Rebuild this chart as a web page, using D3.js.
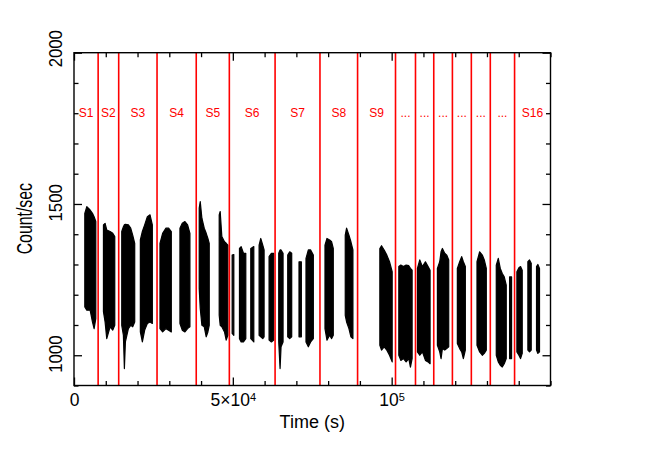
<!DOCTYPE html>
<html>
<head>
<meta charset="utf-8">
<script src="https://cdn.jsdelivr.net/npm/d3@7"></script>
<style>
  body { margin: 0; background: #fff; }
  text { font-family: "Liberation Sans", Arial, Helvetica, sans-serif; }
</style>
</head>
<body>
<div id="chart"></div>
<script>
// red separators between the observation segments (s)
var boundaries = [7600, 14070, 26140, 38480, 48900, 63300, 77430, 89270,
                  101210, 107500, 113250, 119120, 125080, 131050, 138690];
var segLabels = ["S1", "S2", "S3", "S4", "S5", "S6", "S7", "S8", "S9",
                 "...", "...", "...", "...", "...", "...", "S16"];

var xMajor = [0, 50000, 100000];
var xTickLabels = [["0", ""], ["5\u00d710", "4"], ["10", "5"]];
var yMajor = [1000, 1500, 2000];

// light curve, one band per orbit: [time, lower envelope, upper envelope]
var orbits = [
  [[3400,1160,1469],[4030,1149,1491],[5080,1149,1480],[5810,1110,1469],[6330,1088,1458],[6860,1121,1442]],
  [[9270,1144,1431],[9790,1110,1436],[10310,1055,1414],[11360,1094,1409],[12200,1083,1403],[12830,1099,1392]],
  [[15030,1099,1409],[15550,1066,1425],[15860,956,1431],[16180,1044,1433],[17120,1088,1431],[17850,1099,1420],[18480,1094,1397],[19110,1110,1370]],
  [[20890,1077,1381],[21520,1044,1409],[22250,1083,1431],[23090,1105,1458],[23930,1110,1464],[24660,1105,1431]],
  [[27070,1088,1370],[27900,1077,1403],[28950,1088,1420],[29790,1083,1420],[30630,1077,1409]],
  [[33350,1105,1420],[34080,1083,1436],[34920,1077,1442],[35760,1088,1431],[36490,1094,1403]],
  [[39420,1221,1486],[39740,1155,1508],[40260,1099,1453],[41000,1094,1420],[41620,1061,1403],[42150,1077,1386],[42570,1099,1370]],
  [[45710,1132,1464],[46020,1099,1475],[46540,1094,1392],[47380,1077,1375],[47910,1050,1370],[48430,1066,1364]],
  [[49790,1072,1331],[50310,1066,1333]],
  [[52090,1055,1353],[52620,1044,1359],[53350,1044,1337],[54080,1055,1337]],
  [[55650,1055,1353],[56600,1044,1359]],
  [[58270,1066,1364],[58790,1061,1386],[59420,1055,1364],[59840,1061,1348]],
  [[61410,1050,1326],[62140,1044,1337],[62880,1050,1337]],
  [[64450,1044,1337],[64870,956,1348],[65180,1028,1348],[65810,1044,1337]],
  [[67280,1061,1331],[67900,1055,1342],[68530,1061,1337]],
  [[70830,1061,1309],[71570,1061,1309]],
  [[73030,1044,1320],[73770,1028,1348],[74500,1044,1348],[75340,1055,1331]],
  [[79010,1088,1364],[79630,1050,1386],[80470,1066,1381],[81100,1055,1375],[81620,1066,1353]],
  [[85390,1132,1397],[85810,1110,1420],[86550,1088,1397],[87170,1061,1375],[87800,1055,1348]],
  [[96280,1033,1353],[96810,1017,1362],[97640,1028,1348],[98480,1017,1331],[99320,1000,1309],[100160,978,1276]],
  [[102250,1000,1293],[102880,983,1298],[103720,989,1293],[104550,978,1298],[105390,989,1296],[105910,961,1287],[106440,989,1281]],
  [[108110,1011,1287],[108850,1000,1315],[109680,1011,1293],[110630,983,1309],[111460,978,1293],[112090,972,1281]],
  [[114400,1033,1287],[115130,1011,1309],[115550,989,1342],[115970,1022,1353],[116700,1017,1337],[117330,1022,1331],[117960,1028,1315]],
  [[120680,1039,1287],[121410,1022,1309],[122040,1011,1326],[122570,989,1309],[123190,1017,1293]],
  [[126860,1033,1309],[127700,1011,1342],[128530,1000,1331],[129160,1006,1315],[129790,1017,1287]],
  [[132930,1000,1298],[133560,978,1320],[134190,967,1287],[134820,961,1270],[135440,972,1259],[136070,989,1232]],
  [[137120,989,1259],[137750,989,1259]],
  [[139420,1011,1276],[140050,1000,1289],[140570,989,1293],[141100,1006,1281]],
  [[142880,1017,1309],[143400,1011,1315],[143930,1017,1304]],
  [[145600,1017,1293],[146020,1006,1300],[146540,1011,1287]]
];

var width = 664,
    height = 470;
var pLeft = 74, pRight = 550.5, pTop = 52.7, pBottom = 385.5;

var x = d3.scaleLinear().domain([0, 150000]).range([pLeft, pRight]);
var y = d3.scaleLinear().domain([900, 2000]).range([pBottom, pTop]);

var xMinor = d3.range(0, 150001, 10000).filter(function(d) { return xMajor.indexOf(d) < 0; });
var yMinor = d3.range(900, 2001, 100).filter(function(d) { return yMajor.indexOf(d) < 0; });

var svg = d3.select("#chart").append("svg")
    .attr("width", width)
    .attr("height", height);

// light curve bands
var area = d3.area()
    .x(function(d) { return x(d[0]); })
    .y0(function(d) { return y(d[1]); })
    .y1(function(d) { return y(d[2]); });

svg.append("g").selectAll("path")
    .data(orbits)
    .enter().append("path")
    .attr("d", area)
    .attr("fill", "#000")
    .attr("stroke", "#000")
    .attr("stroke-width", 1.2)
    .attr("stroke-linejoin", "round");

// segment separators
svg.append("g").selectAll("line")
    .data(boundaries)
    .enter().append("line")
    .attr("x1", function(d) { return x(d); })
    .attr("x2", function(d) { return x(d); })
    .attr("y1", pTop)
    .attr("y2", pBottom)
    .attr("stroke", "#ff0000")
    .attr("stroke-width", 1.6);

var edges = [0].concat(boundaries, [150000]);
svg.append("g").selectAll("text")
    .data(segLabels)
    .enter().append("text")
    .attr("x", function(d, i) { return x((edges[i] + edges[i + 1]) / 2); })
    .attr("y", 117.3)
    .attr("text-anchor", "middle")
    .attr("font-size", "12px")
    .attr("fill", "#ff0000")
    .text(function(d) { return d; });

// ticks, all pointing inward
function ticks(axis, values, size) {
  return axis.tickValues(values).tickSizeInner(-size).tickSizeOuter(0).tickFormat("");
}
function clean(g) {
  g.select(".domain").remove();
  g.selectAll(".tick line").attr("stroke", "#000").attr("stroke-width", 1.3);
}

svg.append("g").attr("transform", "translate(0," + pBottom + ")")
    .call(ticks(d3.axisBottom(x), xMinor, 4.5)).call(clean);
svg.append("g").attr("transform", "translate(0," + pTop + ")")
    .call(ticks(d3.axisTop(x), xMinor, 4.5)).call(clean);
svg.append("g").attr("transform", "translate(0," + pTop + ")")
    .call(ticks(d3.axisTop(x), xMajor, 8)).call(clean);
svg.append("g").attr("transform", "translate(" + pLeft + ",0)")
    .call(ticks(d3.axisLeft(y), yMinor, 4.5)).call(clean);
svg.append("g").attr("transform", "translate(" + pRight + ",0)")
    .call(ticks(d3.axisRight(y), yMinor, 4.5)).call(clean);
svg.append("g").attr("transform", "translate(" + pRight + ",0)")
    .call(ticks(d3.axisRight(y), yMajor, 8)).call(clean);

// bottom major ticks with powers of ten
var gx = svg.append("g").attr("transform", "translate(0," + pBottom + ")")
    .call(ticks(d3.axisBottom(x), xMajor, 8).tickPadding(8)).call(clean);
gx.selectAll(".tick text")
    .attr("fill", "#000")
    .attr("font-size", "17.5px")
    .attr("font-family", null)
    .each(function(d, i) {
      var t = d3.select(this), parts = xTickLabels[i];
      t.append("tspan").text(parts[0]);
      if (parts[1]) t.append("tspan").attr("dy", "-0.42em").attr("font-size", "11px").text(parts[1]);
    });

// left major ticks, labels rotated
var gy = svg.append("g").attr("transform", "translate(" + pLeft + ",0)")
    .call(ticks(d3.axisLeft(y), yMajor, 8).tickFormat(d3.format("d"))).call(clean);
gy.selectAll(".tick text")
    .attr("fill", "#000")
    .attr("font-size", "18px")
    .attr("font-family", null)
    .attr("text-anchor", "middle")
    .attr("transform", "rotate(-90) scale(0.93,1)")
    .attr("x", function(d) { return (d === 2000 ? 4.5 : 1.6) / 0.93; })
    .attr("y", -12.5)
    .attr("dy", 0);

// frame
svg.append("rect")
    .attr("x", pLeft).attr("y", pTop)
    .attr("width", pRight - pLeft).attr("height", pBottom - pTop)
    .attr("fill", "none")
    .attr("stroke", "#000")
    .attr("stroke-width", 1.4);

// axis titles
svg.append("text")
    .attr("x", (pLeft + pRight) / 2)
    .attr("y", 428)
    .attr("text-anchor", "middle")
    .attr("font-size", "18px")
    .text("Time (s)");

svg.append("text")
    .attr("transform", "translate(31.5,218.7) rotate(-90) scale(0.72,1)")
    .attr("text-anchor", "middle")
    .attr("font-size", "22px")
    .text("Count/sec");
</script>
</body>
</html>
